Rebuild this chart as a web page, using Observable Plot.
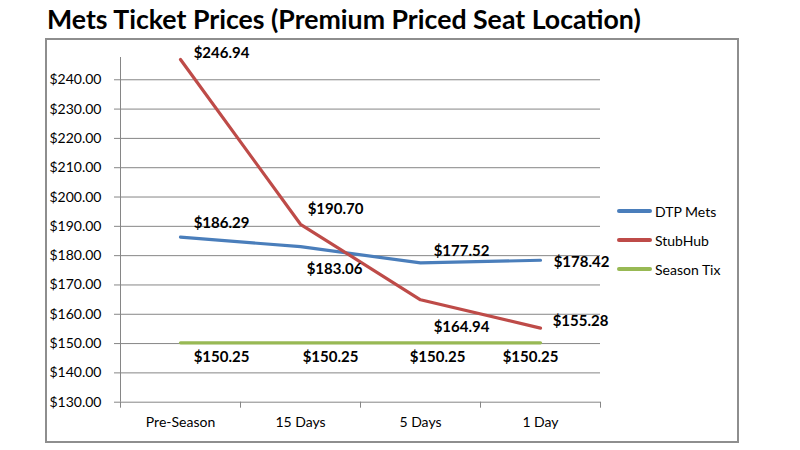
<!DOCTYPE html>
<html>
<head>
<meta charset="utf-8">
<script src="https://cdn.jsdelivr.net/npm/d3@7"></script>
<script src="https://cdn.jsdelivr.net/npm/@observablehq/plot@0.6"></script>
<style>
  body { margin: 0; background: #fff; }
  #wrap { position: relative; width: 800px; height: 450px; overflow: hidden; font-family: Lato, "Liberation Sans", sans-serif; color: #000; }
  #title { height: 38px; box-sizing: border-box; padding-left: 47px; padding-top: 3px; font-weight: bold; font-size: 26.7px; line-height: 32px; white-space: nowrap; }
  #border { position: absolute; left: 45px; top: 38px; width: 694px; height: 405px; box-sizing: border-box; border: 2px solid #8e8e8e; pointer-events: none; }
  .lg { position: absolute; left: 617px; height: 20px; display: flex; align-items: center; font-size: 14px; white-space: nowrap; }
  .lg span.sw { display: inline-block; width: 35px; height: 4px; border-radius: 2px; margin-right: 3px; }
  svg { display: block; }
</style>
</head>
<body>
<div id="wrap">
  <div id="title">Mets Ticket Prices (Premium Priced Seat Location)</div>
  <div id="chart"></div>
  <div id="legend"></div>
  <div id="border"></div>
</div>
<script>
// ---- data ----
const categories = ["Pre-Season", "15 Days", "5 Days", "1 Day"];
const seriesNames = ["DTP Mets", "StubHub", "Season Tix"];
const dtpMets = [186.29, 183.06, 177.52, 178.42];
const stubHub = [246.94, 190.70, 164.94, 155.28];
const seasonTix = [150.25, 150.25, 150.25, 150.25];
const yTicks = [130, 140, 150, 160, 170, 180, 190, 200, 210, 220, 230, 240];

// ---- style ----
const seriesColors = ["#4A7EBB", "#BE4B48", "#98B954"];
// label offsets (px) for each series / category, from the reference
const labelNudge = [
  [[41, -14], [34, 23], [41, -12], [41, 2]],
  [[41, -6], [35, -15], [41, 27], [40, -7]],
  [[41, 14], [30, 14], [17, 14], [-10, 14]]
];

const seriesValues = [dtpMets, stubHub, seasonTix];
const rows = [];
seriesNames.forEach((s, si) => {
  seriesValues[si].forEach((v, i) => {
    rows.push({series: s, idx: i, cat: categories[i], value: v, dx: labelNudge[si][i][0], dy: labelNudge[si][i][1]});
  });
});
const boundaries = d3.range(categories.length + 1).map(i => i - 0.5);
const fmt = d => "$" + d.toFixed(2);
const gray = "#868686";

const labelMarks = rows.map(r => Plot.text([r], {
  x: "idx", y: "value", text: d => fmt(d.value),
  dx: r.dx, dy: r.dy, fontWeight: "bold", fontSize: 15, fill: "#000"
}));

const chart = Plot.plot({
  width: 800,
  height: 412,
  marginLeft: 120,
  marginRight: 200,
  marginTop: 19,
  marginBottom: 48.3,
  x: {type: "linear", domain: [-0.5, categories.length - 0.5], axis: null, label: null},
  y: {domain: [130, 247.6], axis: null, label: null},
  color: {domain: seriesNames, range: seriesColors},
  style: {fontFamily: "Lato, 'Liberation Sans', sans-serif", fontSize: "14px", color: "#000", background: "transparent"},
  marks: [
    Plot.gridY(yTicks, {stroke: gray, strokeOpacity: 1, strokeWidth: 1}),
    Plot.ruleX([-0.5], {stroke: gray, strokeWidth: 1}),
    Plot.axisY({ticks: yTicks, tickSize: 6, tickPadding: 13, tickFormat: fmt, stroke: gray, fill: "#000", label: null}),
    Plot.axisX({ticks: boundaries, tickSize: 6, tickFormat: () => "", stroke: gray, label: null}),
    Plot.axisX({ticks: d3.range(categories.length), tickSize: 0, tickPadding: 15, tickFormat: i => categories[i], fill: "#000", label: null}),
    Plot.line(rows, {x: "idx", y: "value", z: "series", stroke: "series", strokeWidth: 3.2}),
    ...labelMarks
  ]
});
document.getElementById("chart").appendChild(chart);

// legend
const legend = document.getElementById("legend");
const legendTops = [201, 230, 259];
seriesNames.forEach((s, i) => {
  const d = document.createElement("div");
  d.className = "lg";
  d.style.top = legendTops[i] + "px";
  d.innerHTML = `<span class="sw" style="background:${seriesColors[i]}"></span><span>${s}</span>`;
  legend.appendChild(d);
});
</script>
</body>
</html>
